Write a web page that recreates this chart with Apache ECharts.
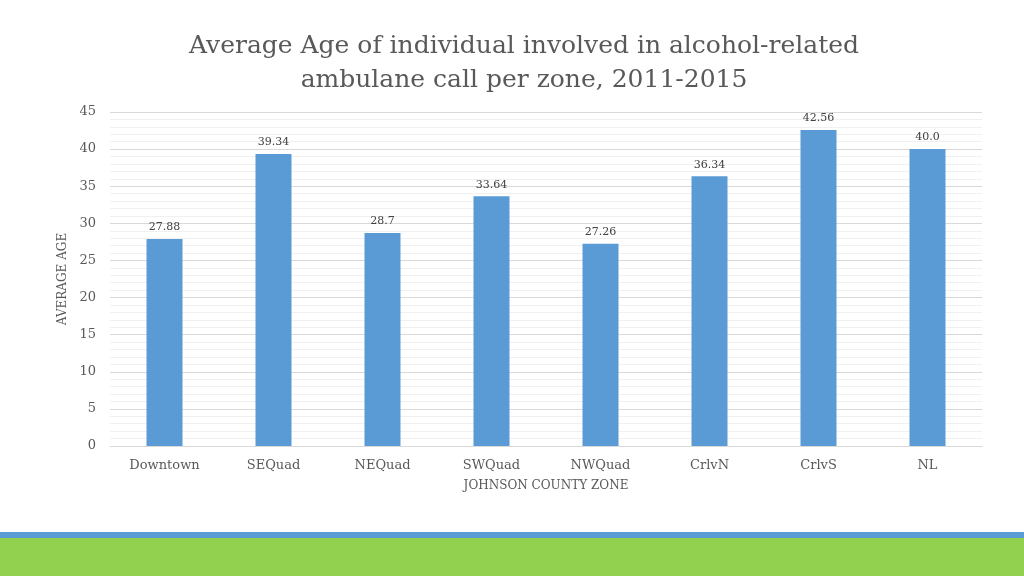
<!DOCTYPE html>
<html><head><meta charset="utf-8">
<script src="https://cdn.jsdelivr.net/npm/echarts@6/dist/echarts.min.js"></script>
<style>html,body{margin:0;padding:0;background:#fff;}#c{width:1024px;height:576px;}</style>
</head><body><div id="c"></div>
<script>
const categories = ['Downtown','SEQuad','NEQuad','SWQuad','NWQuad','CrlvN','CrlvS','NL'];
const values = [27.88, 39.34, 28.7, 33.64, 27.26, 36.34, 42.56, 40.0];
const labels = ['27.88','39.34','28.7','33.64','27.26','36.34','42.56','40.0'];
const F = 'DejaVu Serif';
const chart = echarts.init(document.getElementById('c'));
chart.setOption({
  animation:false,
  backgroundColor:'#fff',
  title:{
    text:'Average Age of individual involved in alcohol-related\nambulane call per zone, 2011-2015',
    left:519, top:24, textAlign:'center',
    textStyle:{fontFamily:F, fontSize:25, fontWeight:'normal', color:'#595959', lineHeight:34}
  },
  grid:{left:110, right:42, top:112, bottom:130},
  xAxis:{
    type:'category', data:categories,
    name:'JOHNSON COUNTY ZONE', nameLocation:'middle', nameGap:34,
    nameTextStyle:{fontFamily:F, fontSize:12, color:'#595959'},
    axisLine:{lineStyle:{color:'#d9d9d9'}}, axisTick:{show:false},
    axisLabel:{fontFamily:F, fontSize:13, color:'#595959', margin:13}
  },
  yAxis:{
    type:'value', min:0, max:45, interval:5,
    name:'AVERAGE AGE', nameLocation:'middle', nameGap:35,
    nameTextStyle:{fontFamily:F, fontSize:12, color:'#595959'},
    axisLine:{show:false}, axisTick:{show:false},
    axisLabel:{fontFamily:F, fontSize:13, color:'#595959', margin:14},
    splitLine:{lineStyle:{color:'#d9d9d9'}},
    minorTick:{show:false, splitNumber:5},
    minorSplitLine:{show:true, lineStyle:{color:'#f0f0f0'}}
  },
  series:[{
    type:'bar', data:values, barWidth:36,
    itemStyle:{color:'#5b9bd5'},
    label:{show:true, position:'top', distance:6, fontFamily:F, fontSize:11, color:'#404040',
      formatter:p=>labels[p.dataIndex]}
  }],
  graphic:[
    {type:'rect', shape:{x:0,y:532,width:1024,height:6}, style:{fill:'#5b9bd5'}},
    {type:'rect', shape:{x:0,y:538,width:1024,height:38}, style:{fill:'#92d050'}}
  ]
});
</script></body></html>
